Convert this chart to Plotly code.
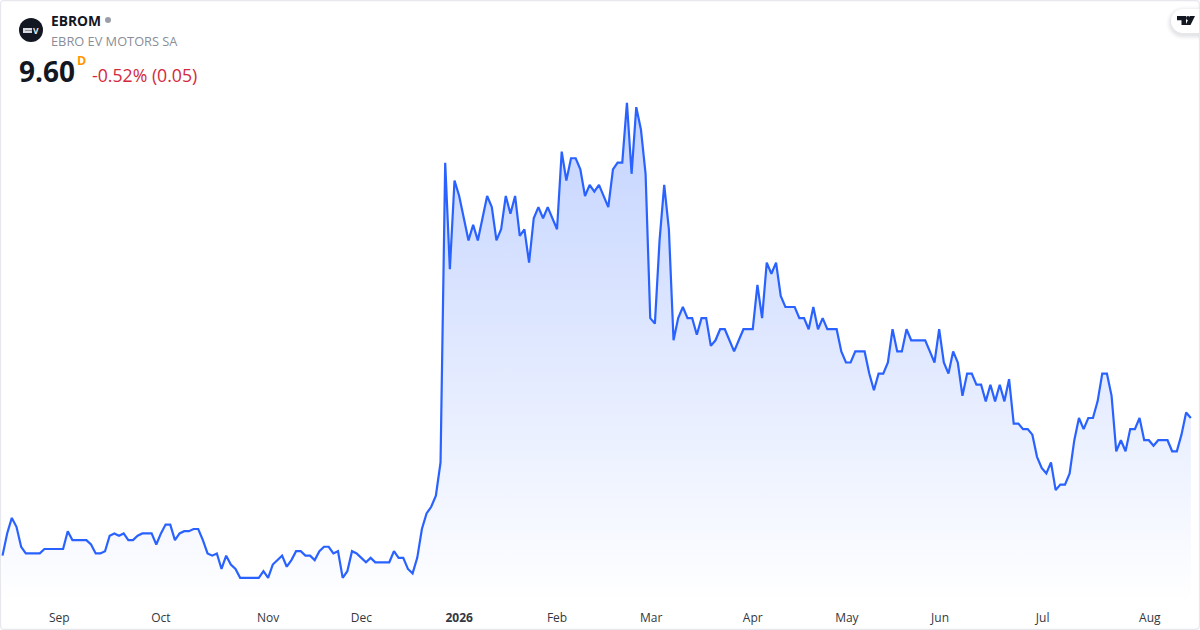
import plotly.graph_objects as go

# ---------- data ----------
symbol = "EBROM"
company = "EBRO EV MOTORS SA"
last_price = "9.60"
interval = "D"
change_text = "-0.52% (0.05)"

prices = [
    8.36, 8.56, 8.70, 8.62, 8.44, 8.38, 8.38, 8.38, 8.38, 8.42, 8.42, 8.42, 8.42, 8.42, 8.58, 8.50,
    8.50, 8.50, 8.50, 8.46, 8.38, 8.38, 8.40, 8.54, 8.56, 8.54, 8.56, 8.50, 8.50, 8.54, 8.56, 8.56,
    8.56, 8.46, 8.56, 8.64, 8.64, 8.50, 8.56, 8.58, 8.58, 8.60, 8.60, 8.50, 8.38, 8.36, 8.38, 8.24,
    8.36, 8.28, 8.24, 8.16, 8.16, 8.16, 8.16, 8.16, 8.22, 8.16, 8.28, 8.32, 8.36, 8.26, 8.32, 8.40,
    8.40, 8.36, 8.36, 8.32, 8.40, 8.44, 8.44, 8.38, 8.40, 8.16, 8.22, 8.40, 8.38, 8.34, 8.30, 8.34,
    8.30, 8.30, 8.30, 8.30, 8.40, 8.34, 8.34, 8.24, 8.20, 8.34, 8.60, 8.74, 8.80, 8.90, 9.20, 11.90,
    10.94, 11.74, 11.60, 11.40, 11.20, 11.34, 11.20, 11.40, 11.60, 11.50, 11.20, 11.30, 11.60, 11.44, 11.60, 11.24,
    11.30, 11.00, 11.40, 11.50, 11.40, 11.50, 11.40, 11.30, 12.00, 11.74, 11.94, 11.94, 11.84, 11.60, 11.70, 11.64,
    11.70, 11.60, 11.50, 11.84, 11.90, 11.90, 12.44, 11.80, 12.40, 12.20, 11.80, 10.50, 10.45, 11.20, 11.70, 11.30,
    10.30, 10.50, 10.60, 10.50, 10.50, 10.35, 10.50, 10.50, 10.25, 10.30, 10.40, 10.40, 10.30, 10.20, 10.30, 10.40,
    10.40, 10.40, 10.80, 10.50, 11.00, 10.90, 11.00, 10.70, 10.60, 10.60, 10.60, 10.50, 10.50, 10.40, 10.60, 10.40,
    10.50, 10.40, 10.40, 10.40, 10.20, 10.10, 10.10, 10.20, 10.20, 10.20, 10.00, 9.85, 10.00, 10.00, 10.10, 10.40,
    10.20, 10.20, 10.40, 10.30, 10.30, 10.30, 10.30, 10.20, 10.10, 10.40, 10.10, 10.00, 10.20, 10.10, 9.80, 10.00,
    10.00, 9.90, 9.90, 9.75, 9.90, 9.75, 9.90, 9.75, 9.95, 9.55, 9.55, 9.50, 9.50, 9.45, 9.25, 9.15,
    9.10, 9.20, 8.95, 9.00, 9.00, 9.10, 9.40, 9.60, 9.50, 9.60, 9.60, 9.75, 10.00, 10.00, 9.80, 9.30,
    9.40, 9.30, 9.50, 9.50, 9.60, 9.40, 9.40, 9.35, 9.40, 9.40, 9.40, 9.30, 9.30, 9.45, 9.65, 9.60,
]
sessions = list(range(len(prices)))
tick_sessions = [12.2, 34, 57, 77, 98, 119, 139.2, 161, 181.2, 201.2, 223.2, 246.2]
tick_labels = ["Sep", "Oct", "Nov", "Dec", "<b>2026</b>", "Feb", "Mar", "Apr", "May", "Jun", "Jul", "Aug"]

# ---------- layout helpers ----------
W, H = 1200, 630
FONT = "Open Sans"
X0, DX = 2.5, 4.66
def px(x): return x / W
def py(y): return 1 - y / H
def val_at(y): return 9.60 + (418 - y) / 111.0

fig = go.Figure()
fig.add_trace(go.Scatter(
    x=sessions, y=prices, mode="lines",
    line=dict(color="#2962ff", width=2.2, shape="linear"),
    fill="tozeroy",
    fillgradient=dict(
        type="vertical",
        colorscale=[[0, "rgba(41,98,255,0)"], [1, "rgba(41,98,255,0.28)"]],
        start=val_at(604), stop=val_at(102),
    ),
    hoverinfo="skip", showlegend=False,
))

def text(x, y, s, size, color, bold=False, anchor="left"):
    fig.add_annotation(
        x=px(x), y=py(y), xref="paper", yref="paper", text=f"<b>{s}</b>" if bold else s,
        showarrow=False, xanchor=anchor, yanchor="middle",
        font=dict(family=FONT, size=size, color=color), borderpad=0, align="left",
    )

text(50, 21, symbol, 13.8, "#131722", bold=True)
text(50, 41, company, 12.8, "#8a8e99")
text(18, 71, last_price, 28, "#131722", bold=True)
text(75.5, 61, interval, 12.5, "#ff9800", bold=True)
text(91, 75, change_text, 17.7, "#d3293d")
text(32.0, 30.3, "V", 8.5, "#e8e9ee", bold=True)

def paper_shape(kind, x0, y0, x1, y1, fill, line="rgba(0,0,0,0)", lw=0, layer="above"):
    fig.add_shape(type=kind, xref="paper", yref="paper", x0=px(x0), y0=py(y0), x1=px(x1), y1=py(y1),
                  fillcolor=fill, line=dict(color=line, width=lw), layer=layer)

def paper_path(points, fill, closed=True, line="rgba(0,0,0,0)", lw=0):
    d = "M " + " L ".join(f"{px(a):.5f},{py(b):.5f}" for a, b in points) + (" Z" if closed else "")
    fig.add_shape(type="path", xref="paper", yref="paper", path=d, fillcolor=fill, line=dict(color=line, width=lw))

# symbol logo and market-status dot
paper_shape("circle", 19, 18, 43, 42, "#131722")
paper_shape("rect", 23, 28, 32, 33, "#d9dae0")
paper_shape("rect", 25, 30.1, 32, 30.9, "#7c7e86")
paper_shape("circle", 105, 17, 111, 23, "#9b9ea8")

# card border
fig.add_shape(type="path", xref="paper", yref="paper", line=dict(color="#e6e8ee", width=1.2),
              path=f"M {px(4)},{py(0.6)} L {px(1195)},{py(0.6)} Q {px(1199.4)},{py(0.6)} {px(1199.4)},{py(4)} "
                   f"L {px(1199.4)},{py(626)} Q {px(1199.4)},{py(629.4)} {px(1195)},{py(629.4)} "
                   f"L {px(4)},{py(629.4)} Q {px(0.6)},{py(629.4)} {px(0.6)},{py(626)} "
                   f"L {px(0.6)},{py(4)} Q {px(0.6)},{py(0.6)} {px(4)},{py(0.6)} Z")

# TradingView badge: soft shadow, then white pill
def pill(x0, y0, y1, fill):
    r = (y1 - y0) / 2
    fig.add_shape(type="path", xref="paper", yref="paper", fillcolor=fill, line=dict(width=0, color="rgba(0,0,0,0)"),
                  path=f"M {px(1199)},{py(y0)} L {px(x0 + r)},{py(y0)} "
                       f"C {px(x0 + r * 0.45)},{py(y0)} {px(x0)},{py(y0 + r * 0.45)} {px(x0)},{py(y0 + r)} "
                       f"C {px(x0)},{py(y1 - r * 0.45)} {px(x0 + r * 0.45)},{py(y1)} {px(x0 + r)},{py(y1)} "
                       f"L {px(1199)},{py(y1)} Z")
for grow, col in ((5, "rgba(19,23,34,0.012)"), (4, "rgba(19,23,34,0.016)"), (3, "rgba(19,23,34,0.02)"),
                  (2, "rgba(19,23,34,0.025)"), (1, "rgba(19,23,34,0.03)")):
    pill(1171 - grow, 9 - grow + 2, 33 + grow + 2, col)
pill(1171, 9, 33, "#ffffff")
paper_path([(1177, 16), (1186, 16), (1186, 25), (1181.5, 25), (1181.5, 20.3), (1177, 20.3)], "#131722")
paper_path([(1190, 16), (1195, 16), (1190.5, 25), (1185.5, 25)], "#131722")
paper_shape("circle", 1186, 16, 1190, 20.2, "#131722")

fig.update_layout(
    width=W, height=H, autosize=False,
    margin=dict(l=0, r=0, t=0, b=0, pad=0),
    paper_bgcolor="#ffffff", plot_bgcolor="rgba(0,0,0,0)",
    font=dict(family=FONT, size=12, color="#131722"),
    xaxis=dict(
        range=[(0 - X0) / DX, (W - X0) / DX],
        tickmode="array", tickvals=tick_sessions, ticktext=tick_labels,
        ticks="", ticklabelposition="inside", ticklabelstandoff=3,
        showgrid=False, zeroline=False, showline=False,
        tickfont=dict(family=FONT, size=12, color="#333740"), fixedrange=True,
    ),
    yaxis=dict(range=[val_at(H), val_at(0)], visible=False, showgrid=False, zeroline=False, fixedrange=True),
    showlegend=False,
)

fig.write_html("out.html", config=dict(displayModeBar=False),
               post_script="document.body.style.margin='0';document.body.style.overflow='hidden';")
